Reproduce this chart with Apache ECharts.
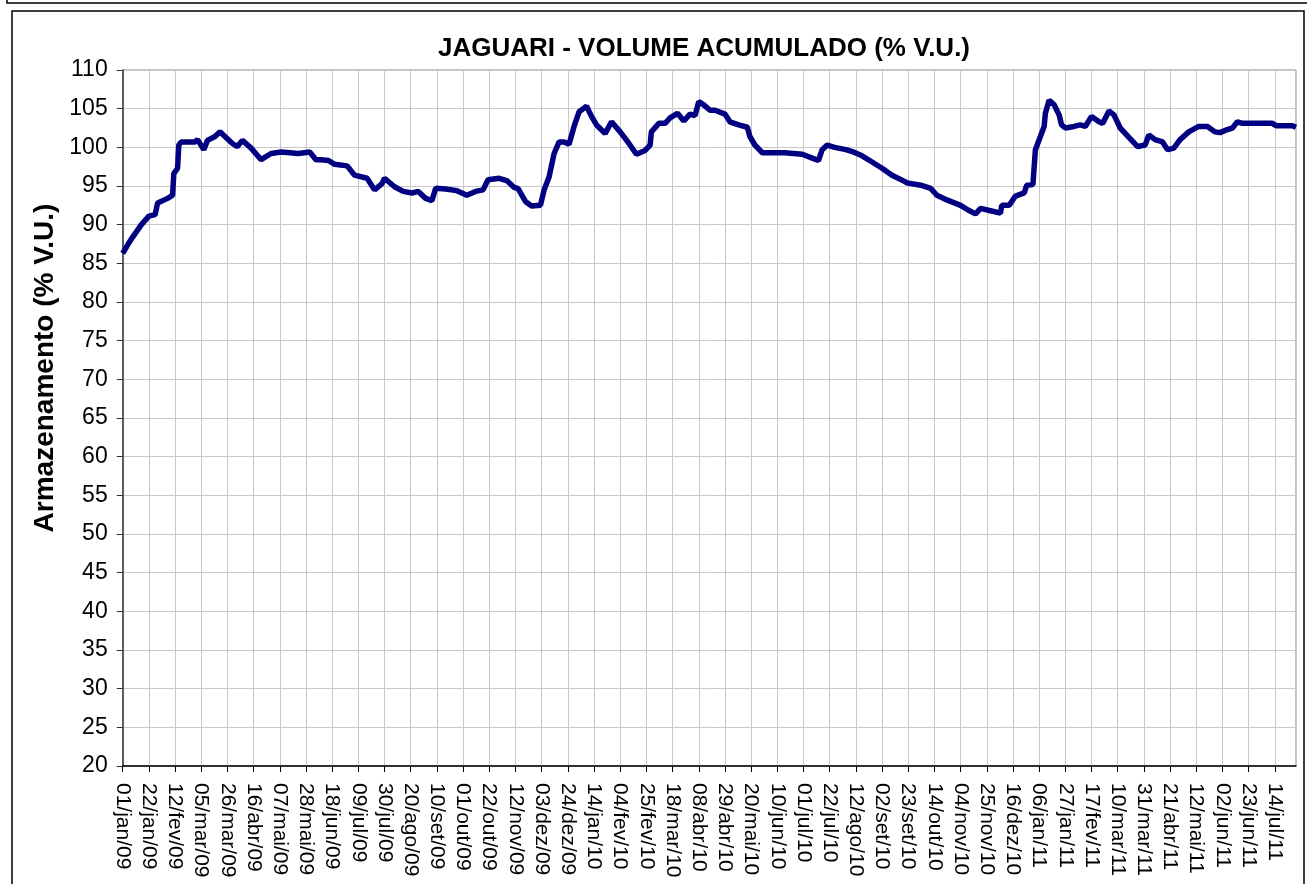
<!DOCTYPE html>
<html>
<head>
<meta charset="utf-8">
<title>JAGUARI - VOLUME ACUMULADO</title>
<script src="https://cdn.jsdelivr.net/npm/echarts@6/dist/echarts.min.js"></script>
<style>
  html, body { margin: 0; padding: 0; background: #fff; }
  #grafico { width: 1307px; height: 884px; }
</style>
</head>
<body>
<div id="grafico"></div>
<script>
// dias contados a partir de 01/jan/09
var dias = [
  0, 4, 8, 15, 21, 26, 28, 36, 40, 41, 44, 45, 47, 58, 60, 65, 68, 74, 78, 82,
  88, 92, 96, 103, 111, 119, 127, 141, 150, 155,
  159, 165, 170, 180, 186, 196, 202, 208, 210, 218, 225, 232, 237, 243, 248, 251,
  259, 268, 276, 283, 289, 293, 302, 308, 314,
  317, 323, 328, 335, 338, 342, 346, 350, 354, 358, 362, 366, 372, 376, 380, 387,
  392, 399, 406, 412, 419, 423, 424, 430, 435, 439, 445, 450, 455, 459, 462, 466, 471,
  475, 483, 487, 494, 501, 503, 507, 513, 531, 545, 553, 558, 561, 565, 571, 580,
  586, 593, 601, 609, 617, 627,
  629, 640, 648, 653, 661, 672, 678, 684, 688, 696, 704, 705, 711, 716, 723, 725,
  730, 732, 736, 739, 740, 743, 747, 751, 753, 756, 763, 768, 772, 777, 783,
  786, 791, 795, 800, 807, 814, 820, 823, 828, 834, 838, 843, 848, 855, 863, 870,
  876, 880, 886, 890, 894, 898, 922, 925, 938, 941
];
// armazenamento (% V.U.)
var volume = [
  86.3, 87.4, 88.4, 90.0, 91.1, 91.3, 92.8, 93.4, 93.8, 96.6, 97.3, 100.3, 100.7, 100.7, 101.0, 99.7, 100.9, 101.4, 102.0, 101.4,
  100.5, 100.1, 100.9, 99.9, 98.4, 99.2, 99.4, 99.2, 99.4, 98.4,
  98.4, 98.3, 97.8, 97.6, 96.4, 96.0, 94.5, 95.3, 96.0, 94.9, 94.3, 94.1, 94.3, 93.4, 93.1, 94.7,
  94.6, 94.4, 93.8, 94.3, 94.5, 95.8, 96.0, 95.7, 94.8,
  94.7, 93.0, 92.4, 92.5, 94.5, 96.2, 99.2, 100.7, 100.7, 100.4, 102.7, 104.6, 105.3, 104.0, 102.9, 101.8,
  103.3, 102.0, 100.5, 99.1, 99.6, 100.3, 102.0, 103.1, 103.1, 103.8, 104.4, 103.4, 104.3, 104.1, 105.9, 105.5, 104.8,
  104.8, 104.3, 103.3, 102.9, 102.6, 101.4, 100.3, 99.3, 99.3, 99.1, 98.6, 98.3, 99.7, 100.3, 100.0, 99.7,
  99.4, 98.9, 98.1, 97.3, 96.4, 95.6,
  95.4, 95.1, 94.7, 93.8, 93.2, 92.5, 91.9, 91.4, 92.1, 91.8, 91.5, 92.5, 92.5, 93.7, 94.1, 95.1,
  95.2, 99.7, 101.4, 102.7, 104.4, 106.1, 105.5, 104.2, 102.9, 102.5, 102.7, 102.9, 102.7, 104.0, 103.3,
  103.1, 104.7, 104.2, 102.5, 101.3, 100.1, 100.3, 101.6, 101.0, 100.7, 99.7, 99.9, 101.0, 102.0, 102.7, 102.7,
  102.0, 101.9, 102.3, 102.5, 103.3, 103.1, 103.1, 102.8, 102.8, 102.6
];
var meses = ['jan', 'fev', 'mar', 'abr', 'mai', 'jun', 'jul', 'ago', 'set', 'out', 'nov', 'dez'];

var inicio = Date.UTC(2009, 0, 1);
function rotuloData(d) {
    var t = new Date(inicio + d * 86400000);
    var dd = t.getUTCDate();
    return (dd < 10 ? '0' + dd : dd) + '/' + meses[t.getUTCMonth()] + '/' + String(t.getUTCFullYear()).slice(2);
}

var pontos = dias.map(function (d, i) { return [d, volume[i]]; });
var fonte = "'Liberation Sans', Arial, sans-serif";

var grafico = echarts.init(document.getElementById('grafico'));
var option = {
    animation: false,
    title: {
        text: 'JAGUARI - VOLUME ACUMULADO (% V.U.)',
        left: 699,
        top: 31,
        textAlign: 'center',
        textStyle: { fontFamily: fonte, fontSize: 26, fontWeight: 'bold', color: '#000' }
    },
    grid: {
        left: 122.7,
        right: 11,
        top: 70,
        bottom: 118,
        containLabel: false,
        outerBoundsMode: 'none',
        show: true,
        borderColor: '#888',
        borderWidth: 1
    },
    xAxis: {
        type: 'value',
        min: 0,
        max: 941,
        interval: 21,
        axisLine: { lineStyle: { color: '#000', width: 1.5 } },
        axisTick: { show: true, length: 6, lineStyle: { color: '#000' } },
        splitLine: { show: true, lineStyle: { color: '#c8c8c8', width: 1 } },
        axisLabel: {
            rotate: -90,
            margin: 17,
            showMaxLabel: false,
            fontFamily: fonte,
            fontSize: 21,
            color: '#000',
            formatter: rotuloData
        }
    },
    yAxis: {
        type: 'value',
        min: 20,
        max: 110,
        interval: 5,
        axisLine: { show: true, lineStyle: { color: '#333', width: 1.5 } },
        axisTick: { show: true, length: 6, lineStyle: { color: '#333' } },
        splitLine: { show: true, lineStyle: { color: '#c8c8c8', width: 1 } },
        axisLabel: { margin: 15, fontFamily: fonte, fontSize: 23, color: '#000' }
    },
    graphic: [
        {
            type: 'text',
            x: 45,
            y: 368,
            rotation: Math.PI / 2,
            style: {
                text: 'Armazenamento (% V.U.)',
                fontFamily: fonte,
                fontSize: 28,
                fontWeight: 'bold',
                fill: '#000',
                align: 'center',
                verticalAlign: 'middle'
            }
        },
        {
            type: 'rect',
            shape: { x: 12, y: 11, width: 1292, height: 880 },
            style: { fill: null, stroke: '#000', lineWidth: 1.5 }
        },
        {
            type: 'polyline',
            shape: { points: [[7, 0], [7, 3], [1307, 3]] },
            style: { fill: null, stroke: '#000', lineWidth: 1.5 }
        }
    ],
    series: [{
        name: 'Armazenamento',
        type: 'line',
        data: pontos,
        showSymbol: false,
        lineStyle: { color: '#000080', width: 5.5 },
        itemStyle: { color: '#000080' }
    }]
};
grafico.setOption(option);
</script>
</body>
</html>
